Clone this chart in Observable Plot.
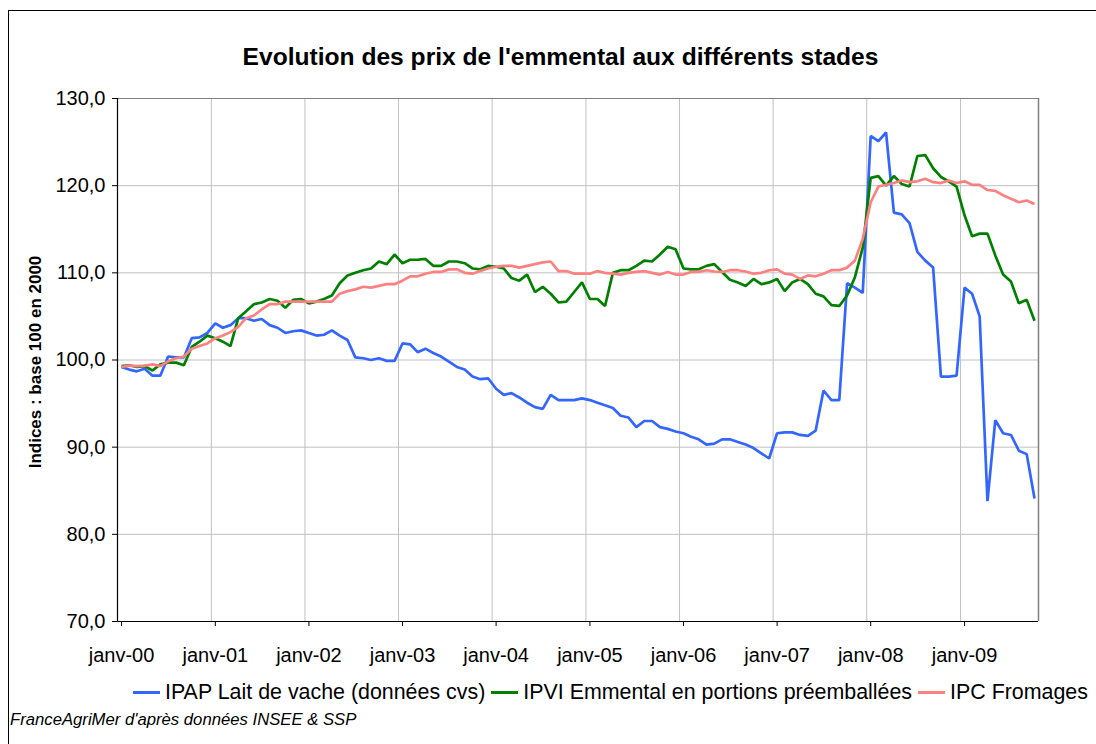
<!DOCTYPE html>
<html>
<head>
<meta charset="utf-8">
<script src="https://cdn.jsdelivr.net/npm/d3@7"></script>
<script src="https://cdn.jsdelivr.net/npm/@observablehq/plot@0.6"></script>
<style>
  html, body { margin: 0; padding: 0; background: #fff; overflow: hidden; }
  body { font-family: "Liberation Sans", Arial, sans-serif; color: #000; }
  #wrap { position: relative; width: 1096px; height: 744px; overflow: hidden; }
  #frame { position: absolute; left: 8px; top: 10px; width: 1200px; height: 900px; border: 1px solid #000; box-sizing: border-box; }
  #chart { position: absolute; left: 0; top: 0; }
  #title { position: absolute; left: 0; width: 1121px; top: 45px; text-align: center; font-weight: bold; font-size: 24.6px; line-height: 1; white-space: nowrap; }
  #ytitle { position: absolute; left: 35px; top: 362px; transform: translate(-50%, -50%) rotate(-90deg); font-weight: bold; font-size: 17px; line-height: 1; white-space: nowrap; }
  #legend { position: absolute; left: 133px; top: 682px; display: flex; align-items: center; font-size: 21.4px; line-height: 1; white-space: nowrap; }
  .item { display: flex; align-items: center; margin-right: 6px; }
  .sw { width: 27px; height: 3px; margin-right: 5px; }
  #caption { position: absolute; left: 10px; top: 712px; font-style: italic; font-size: 16.7px; line-height: 1; white-space: nowrap; }
</style>
</head>
<body>
<div id="wrap">
  <div id="frame"></div>
  <div id="chart"></div>
  <div id="title"></div>
  <div id="ytitle"></div>
  <div id="legend"></div>
  <div id="caption"></div>
</div>
<script>
// ---- Data (monthly indices, janv-00 .. oct-09) ----
const titleText = "Evolution des prix de l'emmental aux différents stades";
const yTitleText = "Indices : base 100 en 2000";
const captionText = "FranceAgriMer d'après données INSEE & SSP";

const seriesNames = ["IPAP Lait de vache (données cvs)", "IPVI Emmental en portions préemballées", "IPC Fromages"];
const seriesColors = ["#3366FF", "#008000", "#FF8080"];

const ipap = [
  99.2, 98.9, 98.7, 99.0, 98.2, 98.2, 100.4, 100.3, 100.3, 102.5, 102.6, 103.1,
  104.2, 103.7, 104.0, 104.8, 104.8, 104.5, 104.7, 104.0, 103.7, 103.1, 103.3, 103.4,
  103.1, 102.8, 102.9, 103.4, 102.8, 102.3, 100.3, 100.2, 100.0, 100.2, 99.9, 99.9,
  101.9, 101.8, 100.9, 101.3, 100.8, 100.4, 99.8, 99.2, 98.9, 98.1, 97.8, 97.9,
  96.7, 96.0, 96.2, 95.7, 95.1, 94.6, 94.4, 96.0, 95.4, 95.4, 95.4, 95.6,
  95.4, 95.1, 94.8, 94.5, 93.6, 93.4, 92.3, 93.0, 93.0, 92.3, 92.1, 91.8,
  91.6, 91.2, 90.9, 90.3, 90.4, 90.9, 90.9, 90.6, 90.3, 89.9, 89.3, 88.7,
  91.6, 91.7, 91.7, 91.4, 91.3, 91.9, 96.5, 95.4, 95.4, 108.8, 108.3, 107.7,
  125.7, 125.1, 126.1, 116.9, 116.7, 115.7, 112.4, 111.4, 110.6, 98.1, 98.1, 98.2,
  108.3, 107.6, 105.0, 83.8, 93.1, 91.6, 91.4, 89.6, 89.2, 84.1
];
const ipvi = [
  99.3, 99.4, 99.2, 99.3, 98.8, 99.5, 99.7, 99.7, 99.4, 101.5, 102.1, 102.8,
  102.5, 102.1, 101.6, 104.8, 105.6, 106.4, 106.6, 107.0, 106.8, 106.0, 106.9, 107.0,
  106.5, 106.7, 107.0, 107.4, 108.8, 109.7, 110.0, 110.3, 110.5, 111.3, 111.0, 112.1,
  111.1, 111.5, 111.5, 111.6, 110.8, 110.8, 111.3, 111.3, 111.1, 110.5, 110.4, 110.8,
  110.7, 110.5, 109.4, 109.1, 109.8, 107.8, 108.4, 107.6, 106.6, 106.7, 107.8, 108.9,
  107.0, 107.0, 106.2, 110.0, 110.3, 110.3, 110.8, 111.4, 111.3, 112.1, 113.0, 112.7,
  110.5, 110.4, 110.4, 110.8, 111.0, 110.1, 109.2, 108.9, 108.5, 109.3, 108.7, 108.9,
  109.3, 107.9, 108.9, 109.3, 108.7, 107.6, 107.3, 106.3, 106.2, 107.4, 109.5, 112.9,
  120.9, 121.1, 120.0, 121.1, 120.2, 119.9, 123.4, 123.5, 122.0, 121.0, 120.5, 119.9,
  116.6, 114.2, 114.5, 114.5, 112.0, 109.8, 109.0, 106.5, 106.9, 104.5
];
const ipc = [
  99.2, 99.35, 99.3, 99.35, 99.5, 99.3, 99.85, 100.2, 100.4, 101.3, 101.6, 101.9,
  102.5, 102.8, 103.2, 103.8, 104.8, 105.1, 105.8, 106.4, 106.4, 106.7, 106.7, 106.7,
  106.7, 106.7, 106.7, 106.7, 107.6, 107.9, 108.1, 108.4, 108.3, 108.5, 108.7, 108.7,
  109.1, 109.6, 109.6, 109.9, 110.1, 110.1, 110.4, 110.4, 110.0, 109.9, 110.2, 110.5,
  110.7, 110.8, 110.8, 110.6, 110.8, 111.0, 111.2, 111.3, 110.2, 110.2, 109.9, 109.9,
  109.9, 110.2, 110.0, 109.9, 109.8, 110.0, 110.1, 110.2, 110.0, 109.8, 110.1, 109.8,
  109.8, 110.1, 110.1, 110.3, 110.15, 110.1, 110.3, 110.3, 110.15, 109.9, 110.0, 110.3,
  110.4, 109.9, 109.8, 109.3, 109.7, 109.6, 109.9, 110.3, 110.3, 110.6, 111.4, 113.9,
  118.1, 119.9, 120.1, 120.3, 120.6, 120.4, 120.5, 120.8, 120.4, 120.3, 120.6, 120.3,
  120.5, 120.1, 120.1, 119.5, 119.4, 118.9, 118.5, 118.1, 118.3, 117.9
];

const yTicks = [70, 80, 90, 100, 110, 120, 130];
const yearTickLabels = ["janv-00", "janv-01", "janv-02", "janv-03", "janv-04", "janv-05", "janv-06", "janv-07", "janv-08", "janv-09"];

// ---- Derived structures ----
const nMonths = ipap.length;
const monthMid = i => new Date((Date.UTC(2000, i, 1) + Date.UTC(2000, i + 1, 1)) / 2);
const xStart = new Date(Date.UTC(2000, 0, 1));
const xEnd = new Date(Date.UTC(2000, nMonths, 1));
const xTicks = yearTickLabels.map((_, k) => new Date(Date.UTC(2000 + k, 0, 1)));
const labelOf = new Map(xTicks.map((d, k) => [+d, yearTickLabels[k]]));

const allSeries = [ipap, ipvi, ipc];
const rows = allSeries.map((vals, s) => vals.map((v, i) => ({date: monthMid(i), value: v, series: seriesNames[s]})));

const chart = Plot.plot({
  width: 1096,
  height: 680,
  marginTop: 98,
  marginBottom: 59,
  marginLeft: 117,
  marginRight: 58,
  style: {background: "transparent", fontFamily: "'Liberation Sans', Arial, sans-serif", color: "#000"},
  x: {type: "utc", domain: [xStart, xEnd]},
  y: {domain: [70, 130]},
  marks: [
    Plot.gridY(yTicks, {stroke: "#c0c0c0", strokeOpacity: 1, strokeWidth: 1}),
    Plot.gridX(xTicks, {stroke: "#c0c0c0", strokeOpacity: 1, strokeWidth: 1}),
    Plot.ruleY([130], {stroke: "#808080", strokeWidth: 1.2}),
    Plot.ruleX([xEnd], {stroke: "#808080", strokeWidth: 1.5}),
    ...rows.map((r, s) => Plot.line(r, {x: "date", y: "value", stroke: seriesColors[s], strokeWidth: 2.7, strokeLinejoin: "miter", strokeLinecap: "butt"})),
    Plot.ruleX([xStart], {stroke: "#000", strokeWidth: 1.2}),
    Plot.ruleY([70], {stroke: "#000", strokeWidth: 1.2}),
    Plot.axisY({ticks: yTicks, tickFormat: d => d.toFixed(1).replace(".", ","), tickSize: 5, tickPadding: 7, fontSize: 20, label: null}),
    Plot.axisX({ticks: xTicks, tickFormat: d => labelOf.get(+d), tickSize: 5, tickPadding: 21, fontSize: 20, dx: 4, label: null})
  ]
});
document.getElementById("chart").appendChild(chart);

document.getElementById("title").textContent = titleText;
document.getElementById("ytitle").textContent = yTitleText;
document.getElementById("caption").textContent = captionText;

const legend = document.getElementById("legend");
seriesNames.forEach((name, s) => {
  const item = document.createElement("div");
  item.className = "item";
  const sw = document.createElement("div");
  sw.className = "sw";
  sw.style.background = seriesColors[s];
  const tx = document.createElement("span");
  tx.textContent = name;
  item.appendChild(sw);
  item.appendChild(tx);
  legend.appendChild(item);
});
</script>
</body>
</html>
